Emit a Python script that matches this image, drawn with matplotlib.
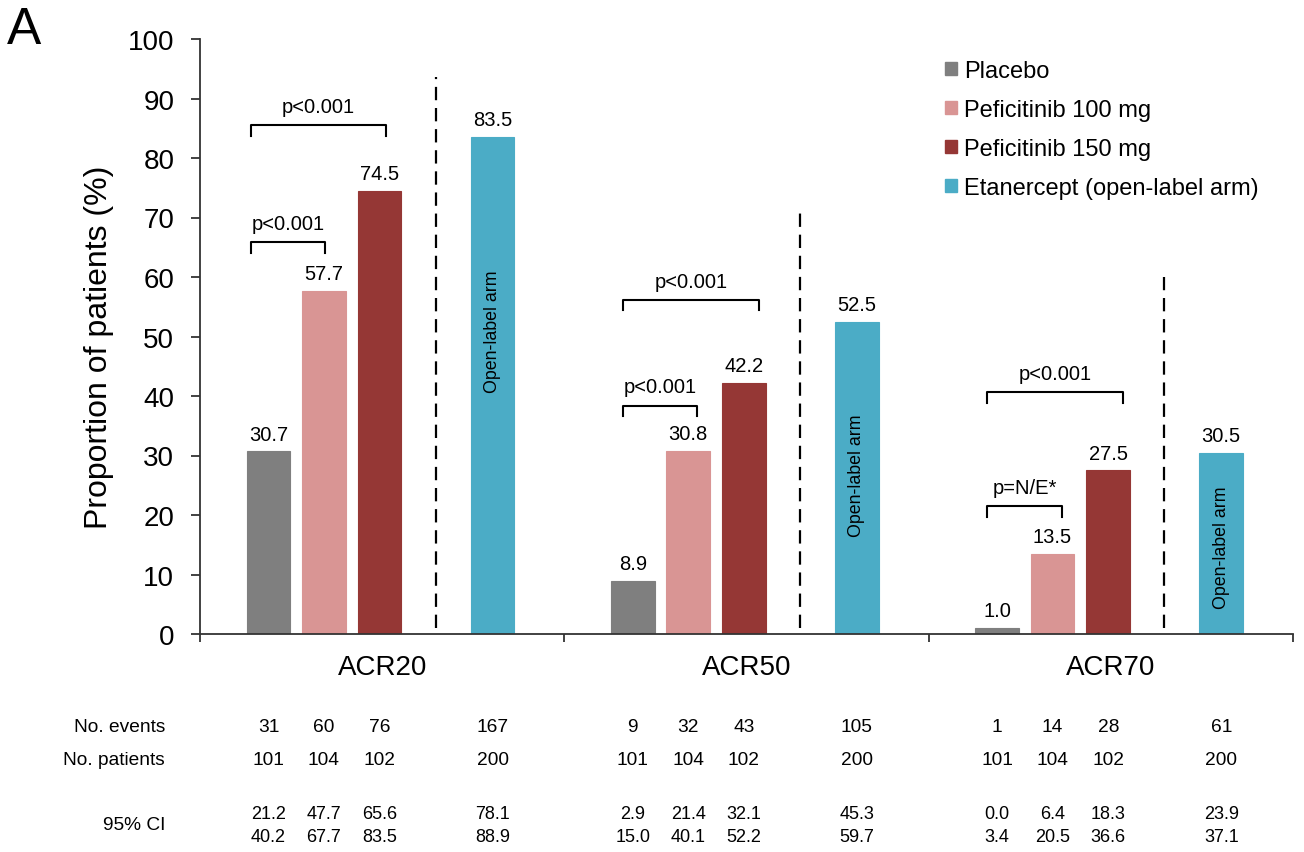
import numpy as np
import matplotlib.pyplot as plt
from matplotlib.patches import Patch

plt.rcParams['font.family'] = ['Liberation Sans', 'DejaVu Sans']

# response rates (%) per endpoint
groups = ['ACR20', 'ACR50', 'ACR70']
placebo = [30.7, 8.9, 1.0]
pef100 = [57.7, 30.8, 13.5]
pef150 = [74.5, 42.2, 27.5]
etanercept = [83.5, 52.5, 30.5]

series_names = ['Placebo', 'Peficitinib 100 mg', 'Peficitinib 150 mg',
                'Etanercept (open-label arm)']
colors = ['#7f7f7f', '#d99594', '#953735', '#4bacc6']

# table under the chart
events = [[31, 60, 76, 167], [9, 32, 43, 105], [1, 14, 28, 61]]
patients = [[101, 104, 102, 200], [101, 104, 102, 200], [101, 104, 102, 200]]
ci_low = [[21.2, 47.7, 65.6, 78.1], [2.9, 21.4, 32.1, 45.3], [0.0, 6.4, 18.3, 23.9]]
ci_high = [[40.2, 67.7, 83.5, 88.9], [15.0, 40.1, 52.2, 59.7], [3.4, 20.5, 36.6, 37.1]]

# p-value annotations: placebo vs 100 mg, placebo vs 150 mg
p_small = ['p<0.001', 'p<0.001', 'p=N/E*']
p_large = ['p<0.001', 'p<0.001', 'p<0.001']

# layout
offsets = [0.188, 0.340, 0.493, 0.803]
bar_w = 0.12
dash_x = 0.647
dash_top = [93.6, 72, 60]
brk_small = [65.9, 38.4, 21.5]
brk_large = [85.5, 56.2, 40.7]
brk_shift = [-0.022, 0, 0]
open_label_y = [51, 26.7, 14.6]

fig = plt.figure(figsize=(13.04, 8.53), dpi=100)
ax = fig.add_axes([200 / 1304, 218 / 853, 1093 / 1304, 595 / 853])

values = [placebo, pef100, pef150, etanercept]
for s, (vals, c) in enumerate(zip(values, colors)):
    xs = np.arange(len(groups)) + offsets[s]
    ax.bar(xs, vals, width=bar_w, color=c, edgecolor=c, linewidth=0.8, zorder=2)
    for x, v in zip(xs, vals):
        ax.text(x, v + 1.3, f'{v:.1f}', ha='center', va='bottom', fontsize=14.5)

fs_tab = 13.8
for g in range(len(groups)):
    # dashed separator before open-label arm
    ax.plot([g + dash_x, g + dash_x], [1, dash_top[g]], color='black',
            linestyle=(0, (6, 3.5)), linewidth=1.6)
    # open-label text inside etanercept bar
    ax.text(g + offsets[3], open_label_y[g], 'Open-label arm', rotation=90,
            ha='center', va='center', fontsize=12.8)
    # brackets
    for k, (yb, lab, ext) in enumerate([(brk_small[g], p_small[g], 0.025),
                                        (brk_large[g], p_large[g], 0.04)]):
        x0 = g + offsets[0] - 0.027 + brk_shift[g]
        x1 = g + offsets[k + 1] + ext + brk_shift[g]
        ax.plot([x0, x0, x1, x1], [yb - 1.8, yb, yb, yb - 1.8], color='black',
                linewidth=1.5, clip_on=False)
        ax.text((x0 + x1) / 2, yb + 2.2, lab, ha='center', va='baseline', fontsize=14.5)
    # group label
    ax.text(g + 0.5, -5.6, groups[g], ha='center', va='center', fontsize=20,
            clip_on=False)
    # table
    for s in range(4):
        x = g + offsets[s]
        ax.text(x, -15.6, str(events[g][s]), ha='center', va='center',
                fontsize=fs_tab, clip_on=False)
        ax.text(x, -21.1, str(patients[g][s]), ha='center', va='center',
                fontsize=fs_tab, clip_on=False)
        ax.text(x, -30.1, f'{ci_low[g][s]:.1f}', ha='center', va='center',
                fontsize=13, clip_on=False)
        ax.text(x, -34.0, f'{ci_high[g][s]:.1f}', ha='center', va='center',
                fontsize=13, clip_on=False)

lab_x = -0.096
ax.text(lab_x, -15.6, 'No. events', ha='right', va='center', fontsize=fs_tab, clip_on=False)
ax.text(lab_x, -21.1, 'No. patients', ha='right', va='center', fontsize=fs_tab, clip_on=False)
ax.text(lab_x, -32.1, '95% CI', ha='right', va='center', fontsize=fs_tab, clip_on=False)

ax.set_xlim(0, 3)
ax.set_ylim(0, 100)
ax.set_yticks(np.arange(0, 101, 10))
ax.set_xticks([0, 1, 2, 3])
ax.set_xticklabels([])
ax.tick_params(axis='y', direction='out', length=6.5, width=1.3, pad=12,
               labelsize=20, color='#333333')
ax.tick_params(axis='x', direction='out', length=6, width=1.3, color='#333333')
ax.set_ylabel('Proportion of patients (%)', fontsize=23)
ax.yaxis.set_label_coords(-0.079, 0.484)
for side in ['top', 'right']:
    ax.spines[side].set_visible(False)
for side in ['left', 'bottom']:
    ax.spines[side].set_color('#333333')
    ax.spines[side].set_linewidth(1.3)

handles = [Patch(facecolor=c, edgecolor=c) for c in colors]
ax.legend(handles, series_names, loc='upper left', bbox_to_anchor=(945 / 1304, 1 - 61 / 853),
          bbox_transform=fig.transFigure, frameon=False, fontsize=17,
          handlelength=0.5, handleheight=0.5, handletextpad=0.3,
          labelspacing=0.72, borderpad=0, borderaxespad=0)

fig.text(7 / 1304, 1 - 6 / 853, 'A', fontsize=37, ha='left', va='top')

fig.savefig('out.png', dpi=100)
